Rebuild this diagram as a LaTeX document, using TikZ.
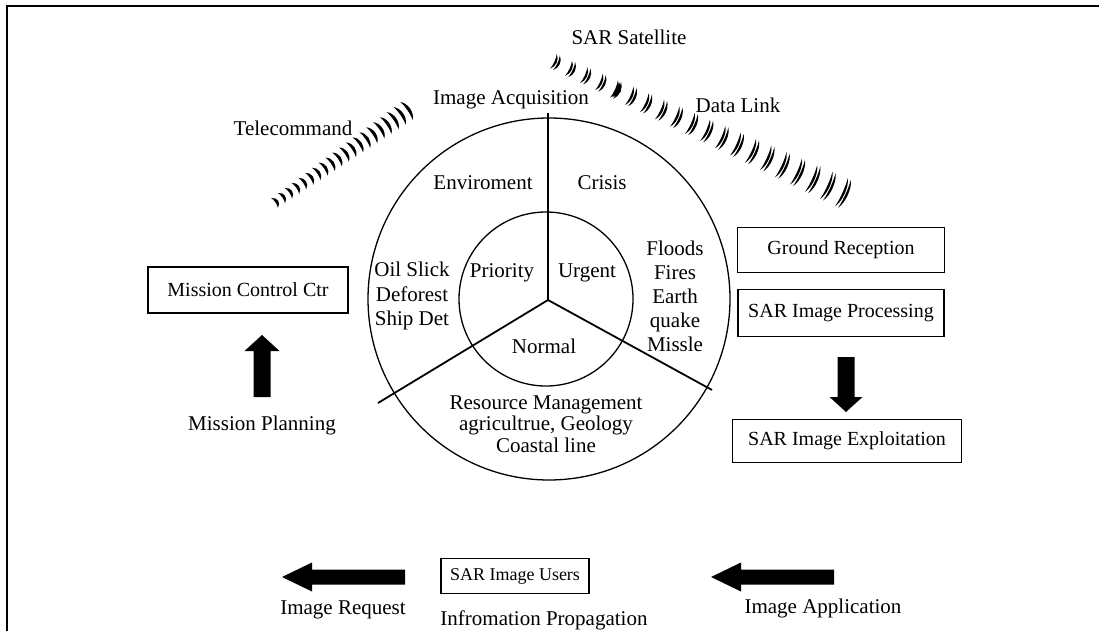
\documentclass[tikz,border=0pt]{standalone}
\usepackage{fontspec}
\setmainfont{Liberation Serif}
\usetikzlibrary{calc}
\begin{document}
\begin{tikzpicture}[x=1pt,y=-1pt,
  lbl/.style={font=\fontsize{21}{24}\selectfont, inner sep=0pt, align=center},
  boxlbl/.style={draw, line width=1.6pt, font=\fontsize{20}{24}\selectfont,
    inner xsep=0pt, inner ysep=0pt, align=center},
  ring/.style={circle, draw, line width=1.3pt, inner sep=0pt},
  spoke/.style={line width=1.8pt},
  pics/blockarrow/.style n args={4}{code={
    \fill (0pt,0pt) -- (-#2,#3) -- (-#2,#4) -- (-#1,#4) -- (-#1,-#4)
          -- (-#2,-#4) -- (-#2,-#3) -- cycle;}},
  pics/crescent/.style n args={2}{code={
    \fill (-1.8pt,-#1) .. controls (#2,-0.5*#1) and (#2,0.5*#1) .. (-1.8pt,#1)
      .. controls (-0.2pt,0.5*#1) and (-0.2pt,-0.5*#1) .. cycle;}},
]
\useasboundingbox (0,0) rectangle (1099,631);

% frame
\draw[line width=1.3pt] (7,631) -- (7,6) -- (1099,6);

% ---- central wheel ----
\node[ring, minimum size=362pt] (outer) at (549,299) {};
\node[ring, minimum size=174pt] (inner) at (546,299) {};
\coordinate (hub) at (548,300);
\coordinate (spT) at (548,113);
\coordinate (spL) at (378,403);
\coordinate (spR) at (712,390);
\draw[spoke] (hub) -- (spT);
\draw[spoke] (hub) -- (spL);
\draw[spoke] (hub) -- (spR);

\node[lbl] (acq)   at (511,100) {Image Acquisition};
\node[lbl] (env)   at (483,183) {Enviroment};
\node[lbl] (cri)   at (602,183) {Crisis};
\node[lbl] (pri)   at (502,273) {Priority};
\node[lbl] (urg)   at (587,273) {Urgent};
\node[lbl] (nor)   at (544,346) {Normal};
\node[lbl, font=\fontsize{21}{24.5}\selectfont] (oil) at (412,296) {Oil Slick\\Deforest\\Ship Det};
\node[lbl, font=\fontsize{21}{24}\selectfont] (fld) at (675,296) {Floods\\Fires\\Earth\\quake\\Missle};
\node[lbl, font=\fontsize{21}{21.5}\selectfont] (res) at (546,424) {Resource Management\\agricultrue, Geology\\Coastal line};

% ---- radio links ----
\node[lbl] (tcmd) at (293,128) {Telecommand};
\node[lbl] (sat)  at (629,37)  {SAR Satellite};
\node[lbl] (dlk)  at (738,105) {Data Link};

% telecommand uplink: a row of single strokes
\coordinate (tcA) at (276,202);
\coordinate (tcB) at (408,110);
\foreach \i in {0,...,19}{
  \pgfmathsetmacro\t{\i/19}
  \pgfmathsetmacro\h{6+5*\t}
  \pic[rotate=34.5] at ($(tcA)!\t!(tcB)$) {crescent={\h pt}{4pt}};
}

% data downlink: a row of double strokes
\coordinate (dlA) at (555,62);
\coordinate (dlB) at (843,193);
\foreach \i in {0,...,19}{
  \pgfmathsetmacro\t{\i/19}
  \pgfmathsetmacro\h{8+7.5*\t}
  \pic[rotate=-24.5] at ($(dlA)!\t!(dlB)$) {crescent={\h pt}{3pt}};
  \pic[rotate=-24.5, xshift=3.4pt] at ($(dlA)!\t!(dlB)$) {crescent={\h pt}{3pt}};
}
\pic[rotate=-24.5, xshift=1.7pt] at ($(dlA)!0.2105!(dlB)$) {crescent={8pt}{5.5pt}};

% ---- mission control side ----
\node[boxlbl, minimum width=200pt, minimum height=46pt] (mcc) at (248,290) {Mission Control Ctr};
\coordinate (upTip) at (262,335);
\pic[rotate=90] at (upTip) {blockarrow={62pt}{16pt}{17.5pt}{8.5pt}};
\node[lbl] (mpl) at (262,425) {Mission Planning};

% ---- ground segment ----
\node[boxlbl, minimum width=207pt, minimum height=45pt] (grc) at (841,250) {Ground Reception};
\node[boxlbl, minimum width=206pt, minimum height=47pt] (sip) at (841,313) {SAR Image Processing};
\coordinate (dnTip) at (846,412);
\pic[rotate=-90] at (dnTip) {blockarrow={55pt}{15pt}{16.5pt}{8.5pt}};
\node[boxlbl, minimum width=229pt, minimum height=43pt] (sie) at (847,441) {SAR Image Exploitation};

% ---- users ----
\node[boxlbl, font=\fontsize{18}{22}\selectfont, minimum width=148pt, minimum height=35pt] (usr) at (515,576) {SAR Image Users};
\coordinate (lfTip) at (282,577);
\pic[rotate=180] at (lfTip) {blockarrow={123pt}{30pt}{14.5pt}{7.5pt}};
\coordinate (rtTip) at (711,577);
\pic[rotate=180] at (rtTip) {blockarrow={123pt}{30pt}{14.5pt}{7.5pt}};
\node[lbl] (req) at (343,610) {Image Request};
\node[lbl] (inf) at (544,620) {Infromation Propagation};
\node[lbl] (app) at (823,608) {Image Application};
\end{tikzpicture}
\end{document}
